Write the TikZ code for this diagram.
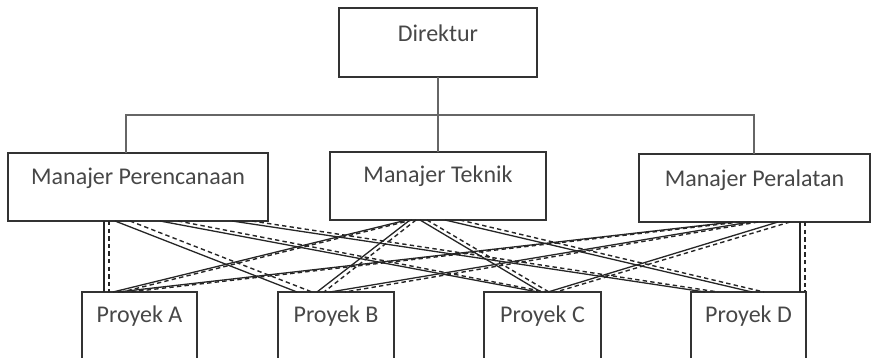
\documentclass[tikz,border=0pt]{standalone}
\usepackage{fontspec}
\setmainfont{Carlito}
\usetikzlibrary{calc}

% one unit = one pixel of the 875 x 358 layout, y grows downwards
\tikzset{
  orgbox/.style={draw=black!80, line width=0.8pt, rectangle, anchor=north west,
    inner sep=0pt, outer sep=0pt, align=center, text=black!72,
    font=\fontsize{12}{14}\selectfont},
  bus/.style={draw=black!60, line width=0.8pt},
  rel/.style={draw=black!85, line width=0.65pt},
  reldash/.style={draw=black!85, line width=0.7pt, dash pattern=on 2.2pt off 1.6pt},
}
% link from the bottom edge of a manager box to the top edge of a project box
\newcommand{\mylink}[5][rel]{%
  \draw[#1] ($(#2.south west)+(#3,0)$) -- ($(#4.north west)+(#5,0)$);}

\begin{document}
\begin{tikzpicture}[x=0.5pt, y=-0.5pt]
\useasboundingbox (0,0) rectangle (875,358);
\clip (0,0) rectangle (875,358);

% top level
\node[orgbox, minimum width=99pt, text height=17pt, text depth=17.5pt] (dir) at (339,8) {Direktur};

% managers
\node[orgbox, minimum width=130pt, text height=16pt, text depth=18pt] (per) at (8,153) {Manajer Perencanaan};
\node[orgbox, minimum width=108pt, text height=15.5pt, text depth=18.5pt] (tek) at (330,152) {Manajer Teknik};
\node[orgbox, minimum width=115.5pt, text height=16.5pt, text depth=17.5pt] (pal) at (639,154) {Manajer Peralatan};

% projects
\node[orgbox, minimum width=57.5pt, text height=15.5pt, text depth=34.5pt] (pA) at (82,292) {Proyek A};
\node[orgbox, minimum width=58pt, text height=15.5pt, text depth=34.5pt] (pB) at (278,292) {Proyek B};
\node[orgbox, minimum width=58.5pt, text height=15.5pt, text depth=34.5pt] (pC) at (484,292) {Proyek C};
\node[orgbox, minimum width=57.5pt, text height=15.5pt, text depth=34.5pt] (pD) at (691,292) {Proyek D};

% reporting lines from the director
\coordinate (busL) at (126,115);
\coordinate (busR) at (754,115);
\draw[bus] (dir.south) -- (tek.north);
\draw[bus] (per.north -| busL) -- (busL) -- (busR) -- (busR |- pal.north);

% Manajer Perencanaan to the projects
\mylink{per}{96}{pA}{22}
\mylink[reldash]{per}{101}{pA}{27}
\mylink{per}{107}{pB}{19}
\mylink[reldash]{per}{122}{pB}{34}
\mylink{per}{152}{pC}{54}
\mylink[reldash]{per}{170}{pC}{62}
\mylink{per}{224}{pD}{14}
\mylink[reldash]{per}{244}{pD}{27}

% Manajer Teknik to the projects
\mylink{tek}{77}{pA}{31}
\mylink[reldash]{tek}{82}{pA}{40}
\mylink{tek}{80}{pB}{39}
\mylink[reldash]{tek}{86}{pB}{46}
\mylink{tek}{90}{pC}{57}
\mylink[reldash]{tek}{97}{pC}{65}
\mylink{tek}{115}{pD}{61}
\mylink[reldash]{tek}{130}{pD}{73}

% Manajer Peralatan to the projects
\mylink{pal}{94}{pA}{36}
\mylink[reldash]{pal}{101}{pA}{48}
\mylink{pal}{111}{pB}{52}
\mylink[reldash]{pal}{119}{pB}{67}
\mylink{pal}{139}{pC}{64}
\mylink[reldash]{pal}{151}{pC}{72}
\mylink{pal}{161}{pD}{109}
\mylink[reldash]{pal}{166}{pD}{114}
\end{tikzpicture}
\end{document}
